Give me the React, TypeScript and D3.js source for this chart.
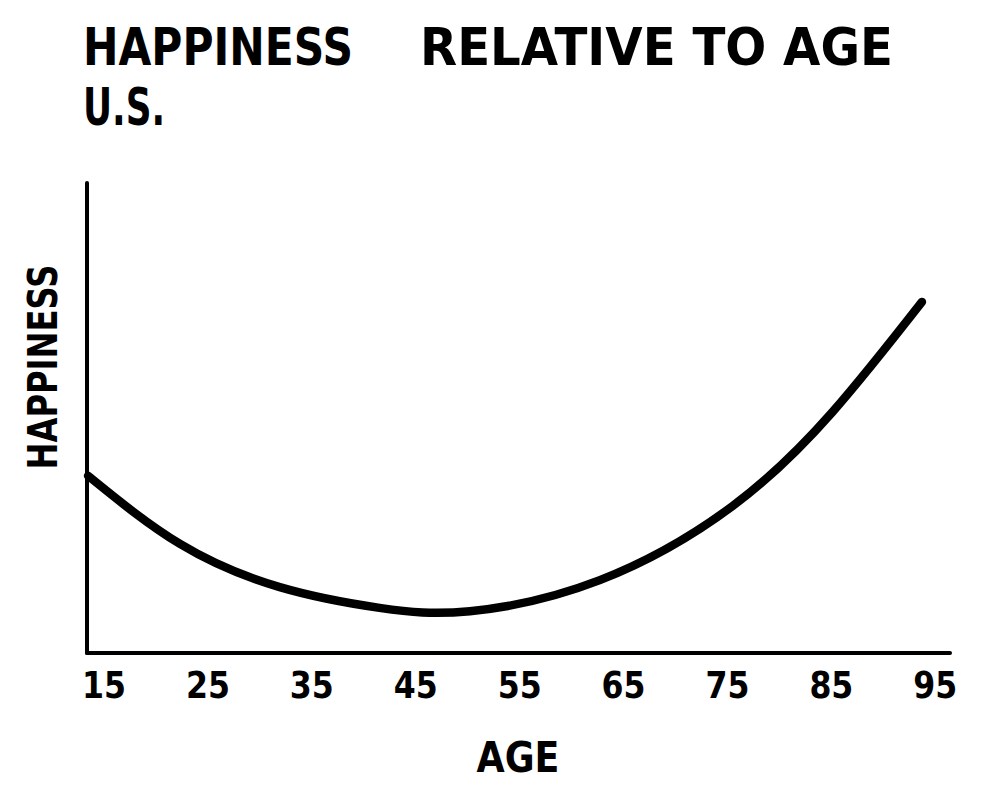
import React from 'react';
import * as d3 from 'd3';

// values (age in years, happiness on a 0-100 scale)
const ages = [13.85, 22.7, 32.3, 41.9, 50.6, 63.1, 75.9, 85.5, 94.1];
const happiness = [37.7, 23.2, 14.0, 9.6, 8.9, 15.5, 31.3, 51.3, 74.7];
const ageTicks = [15, 25, 35, 45, 55, 65, 75, 85, 95];

const FONT = '"DejaVu Sans", "Noto Sans", sans-serif';

export default function App() {
  const width = 994;
  const height = 786;
  const left = 87;
  const right = 950;
  const bottom = 653;
  const top = 183;

  const x = d3.scaleLinear().domain([13.75, 96.8]).range([left, right]);
  const y = d3.scaleLinear().domain([0, 100]).range([bottom, top]);

  const points = ages.map((a, i) => ({ age: a, value: happiness[i] }));
  const line = d3
    .line<{ age: number; value: number }>()
    .x(d => x(d.age))
    .y(d => y(d.value))
    .curve(d3.curveNatural);

  return (
    <div style={{ position: 'absolute', left: 0, top: 0 }}>
      <svg width={width} height={height} style={{ display: 'block', background: '#fff' }}>
        {/* title */}
        <text x={83} y={65} fontFamily={FONT} fontWeight="bold" fontSize={52}
          textLength={270} lengthAdjust="spacingAndGlyphs">HAPPINESS</text>
        <text x={420} y={65} fontFamily={FONT} fontWeight="bold" fontSize={52}
          textLength={473} lengthAdjust="spacingAndGlyphs">RELATIVE TO AGE</text>
        <text x={83} y={125} fontFamily={FONT} fontWeight="bold" fontSize={52}
          textLength={82} lengthAdjust="spacingAndGlyphs">U.S.</text>

        {/* axes */}
        <line x1={left} y1={top} x2={left} y2={bottom} stroke="#000" strokeWidth={4} strokeLinecap="round" />
        <line x1={left} y1={bottom} x2={right} y2={bottom} stroke="#000" strokeWidth={4} strokeLinecap="round" />

        {/* curve */}
        <path d={line(points) || ''} fill="none" stroke="#000" strokeWidth={8.5}
          strokeLinecap="round" strokeLinejoin="round" />

        {/* tick labels */}
        {ageTicks.map(t => (
          <text key={t} x={x(t) + 4} y={698} textAnchor="middle" fontFamily={FONT}
            fontWeight="bold" fontSize={38} textLength={44} lengthAdjust="spacingAndGlyphs">
            {t}
          </text>
        ))}

        {/* axis titles */}
        <text x={518} y={772} textAnchor="middle" fontFamily={FONT} fontWeight="bold" fontSize={42}
          textLength={83} lengthAdjust="spacingAndGlyphs">AGE</text>
        <text transform="translate(57,367) rotate(-90)" textAnchor="middle" fontFamily={FONT}
          fontWeight="bold" fontSize={40} textLength={205} lengthAdjust="spacingAndGlyphs">HAPPINESS</text>
      </svg>
    </div>
  );
}
